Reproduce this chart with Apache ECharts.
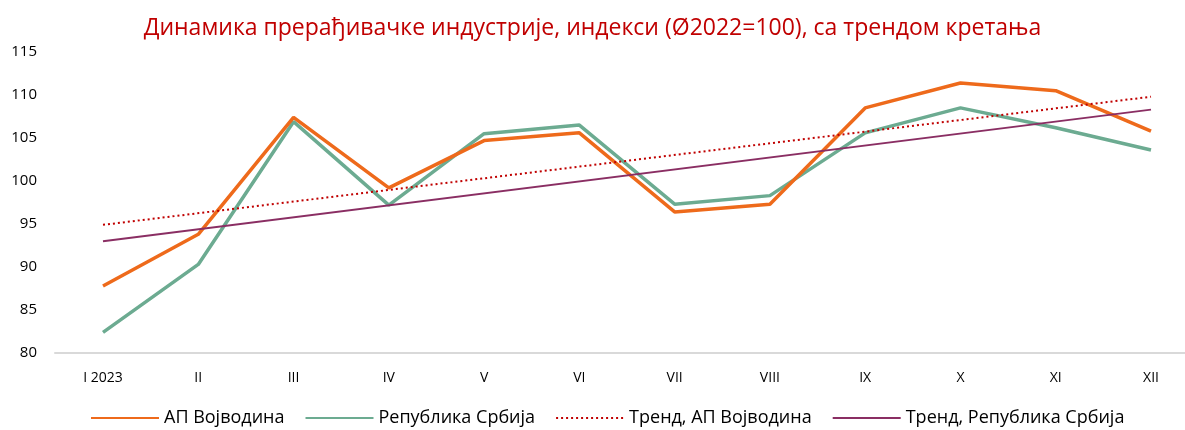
<!DOCTYPE html>
<html>
<head>
<meta charset="utf-8">
<script src="https://cdn.jsdelivr.net/npm/echarts@6/dist/echarts.min.js"></script>
<style>
  html, body { margin: 0; padding: 0; background: #fff; }
  #chart { width: 1185px; height: 430px; }
</style>
</head>
<body>
<div id="chart"></div>
<script>
const months = ['I 2023', 'II', 'III', 'IV', 'V', 'VI', 'VII', 'VIII', 'IX', 'X', 'XI', 'XII']
const vojvodina = [87.8, 93.8, 107.4, 99.2, 104.7, 105.6, 96.4, 97.3, 108.5, 111.4, 110.5, 105.8]
const srbija = [82.4, 90.3, 106.9, 97.2, 105.5, 106.5, 97.3, 98.3, 105.6, 108.5, 106.2, 103.6]
// trend lines: start / end values
const trendVojvodina = [94.9, 109.8]
const trendSrbija = [93.0, 108.3]

const font = 'Open Sans'
const chart = echarts.init(document.getElementById('chart'))

chart.setOption({
  animation: false,
  textStyle: { fontFamily: font },
  title: {
    text: 'Динамика прерађивачке индустрије, индекси (Ø2022=100), са трендом кретања',
    left: 'center',
    top: 12,
    textStyle: { color: '#C00000', fontSize: 23, fontWeight: 'normal', fontFamily: font }
  },
  legend: {
    top: 404,
    left: 85,
    itemWidth: 68,
    itemHeight: 3,
    itemGap: 20,
    itemStyle: { opacity: 0 },
    textStyle: { color: '#000', fontSize: 18, fontFamily: font },
    data: ['АП Војводина', 'Република Србија', 'Тренд, АП Војводина', 'Тренд, Република Србија']
  },
  grid: [
    { left: 103, right: 34, top: 52, bottom: 77 },
    // frame for the bottom axis line, which runs the full width
    { left: 55, right: 0, top: 52, bottom: 77 }
  ],
  xAxis: [
    {
      type: 'category',
      data: months,
      boundaryGap: false,
      axisLine: { show: false },
      axisTick: { show: false },
      axisLabel: { color: '#000', fontSize: 14, margin: 18, fontFamily: font }
    },
    {
      gridIndex: 1,
      type: 'value',
      min: 0,
      max: 1,
      axisLine: { show: true, lineStyle: { color: '#d9d9d9', width: 2 } },
      axisTick: { show: false },
      axisLabel: { show: false },
      splitLine: { show: false }
    }
  ],
  yAxis: [
    {
      type: 'value',
      min: 80,
      max: 115,
      interval: 5,
      axisLine: { show: false },
      axisTick: { show: false },
      splitLine: { show: false },
      axisLabel: { color: '#000', fontSize: 15, margin: 66, fontFamily: font }
    },
    {
      gridIndex: 1,
      type: 'value',
      show: false
    }
  ],
  series: [
    {
      name: 'АП Војводина',
      type: 'line',
      data: vojvodina,
      symbol: 'none',
      z: 4,
      lineStyle: { color: '#EE6A1B', width: 3.5 },
      itemStyle: { color: '#EE6A1B' }
    },
    {
      name: 'Република Србија',
      type: 'line',
      data: srbija,
      symbol: 'none',
      z: 3,
      lineStyle: { color: '#6CAB91', width: 3.5 },
      itemStyle: { color: '#6CAB91' }
    },
    {
      name: 'Тренд, АП Војводина',
      type: 'line',
      data: [[0, trendVojvodina[0]], [months.length - 1, trendVojvodina[1]]],
      symbol: 'none',
      z: 5,
      lineStyle: { color: '#C00000', width: 2, type: [2, 3] },
      itemStyle: { color: '#C00000' }
    },
    {
      name: 'Тренд, Република Србија',
      type: 'line',
      data: [[0, trendSrbija[0]], [months.length - 1, trendSrbija[1]]],
      symbol: 'none',
      z: 5,
      lineStyle: { color: '#8A2E63', width: 2 },
      itemStyle: { color: '#8A2E63' }
    }
  ]
})
</script>
</body>
</html>
